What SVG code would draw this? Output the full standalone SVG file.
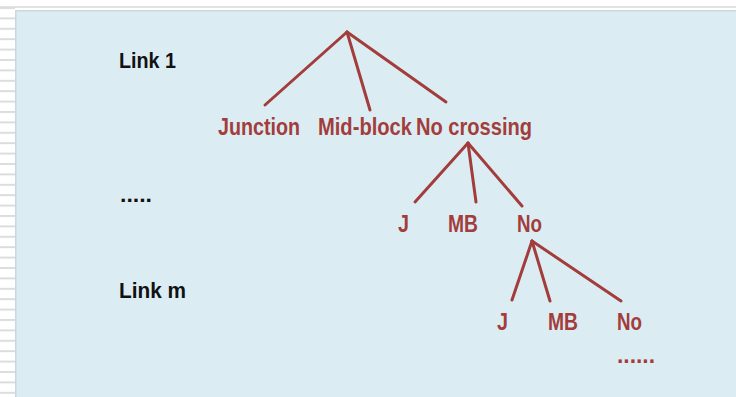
<svg xmlns="http://www.w3.org/2000/svg" width="736" height="397" viewBox="0 0 736 397">
  <defs>
    <pattern id="ruled" x="0" y="7" width="15" height="10.4" patternUnits="userSpaceOnUse">
      <rect x="0" y="0" width="15" height="2" fill="#dcdcdc"/>
    </pattern>
    <style>
      .lbl { font-family: "Liberation Sans", Arial, sans-serif; font-weight: bold; font-size: 23px; }
      .head { fill: #111111; font-size: 22px; }
      .leaf { fill: #a23d3c; }
      .edge { stroke: #a23d3c; stroke-width: 3; stroke-linecap: round; fill: none; }
    </style>
  </defs>

  <!-- page background, ruled margin, light-blue panel -->
  <rect x="0" y="0" width="736" height="397" fill="#ffffff"/>
  <rect x="0" y="6" width="736" height="2" fill="#e2e2e2"/>
  <rect x="0" y="0" width="15" height="397" fill="url(#ruled)"/>
  <rect x="15" y="10" width="721" height="387" fill="#dbedf3"/>
  <rect x="15" y="10" width="721" height="1.5" fill="#cbd8e2"/>
  <rect x="15" y="10" width="1.5" height="387" fill="#cbd8e2"/>

  <!-- connectors -->
  <g id="connectors" class="edge">
    <line x1="347" y1="32" x2="265" y2="105"/>
    <line x1="347" y1="32" x2="370" y2="110"/>
    <line x1="347" y1="32" x2="446" y2="102"/>
    <line x1="468" y1="143" x2="415" y2="202"/>
    <line x1="468" y1="143" x2="476" y2="202"/>
    <line x1="468" y1="143" x2="522" y2="206"/>
    <line x1="532" y1="241" x2="512" y2="300"/>
    <line x1="532" y1="241" x2="550" y2="301"/>
    <line x1="532" y1="241" x2="621" y2="301"/>
  </g>

  <!-- row headings -->
  <g id="link-1"><text class="lbl head" x="119" y="68" textLength="57" lengthAdjust="spacingAndGlyphs">Link 1</text></g>
  <g id="ellipsis-rows"><text class="lbl head" x="120" y="202" textLength="32" lengthAdjust="spacingAndGlyphs">.....</text></g>
  <g id="link-m"><text class="lbl head" x="119" y="298" textLength="67" lengthAdjust="spacingAndGlyphs">Link m</text></g>

  <!-- level 1 -->
  <g id="junction"><text class="lbl leaf" x="218" y="135" textLength="82" lengthAdjust="spacingAndGlyphs">Junction</text></g>
  <g id="mid-block"><text class="lbl leaf" x="318" y="135" textLength="94" lengthAdjust="spacingAndGlyphs">Mid-block</text></g>
  <g id="no-crossing"><text class="lbl leaf" x="416" y="135" textLength="116" lengthAdjust="spacingAndGlyphs">No crossing</text></g>

  <!-- level 2 -->
  <g id="j-2"><text class="lbl leaf" x="398" y="232" textLength="11" lengthAdjust="spacingAndGlyphs">J</text></g>
  <g id="mb-2"><text class="lbl leaf" x="448" y="232" textLength="30" lengthAdjust="spacingAndGlyphs">MB</text></g>
  <g id="no-2"><text class="lbl leaf" x="517" y="232" textLength="25" lengthAdjust="spacingAndGlyphs">No</text></g>

  <!-- level 3 -->
  <g id="j-3"><text class="lbl leaf" x="497" y="330" textLength="11" lengthAdjust="spacingAndGlyphs">J</text></g>
  <g id="mb-3"><text class="lbl leaf" x="548" y="330" textLength="30" lengthAdjust="spacingAndGlyphs">MB</text></g>
  <g id="no-3"><text class="lbl leaf" x="617" y="330" textLength="25" lengthAdjust="spacingAndGlyphs">No</text></g>
  <g id="ellipsis-more"><text class="lbl leaf" x="617" y="363" textLength="38" lengthAdjust="spacingAndGlyphs">......</text></g>
</svg>
